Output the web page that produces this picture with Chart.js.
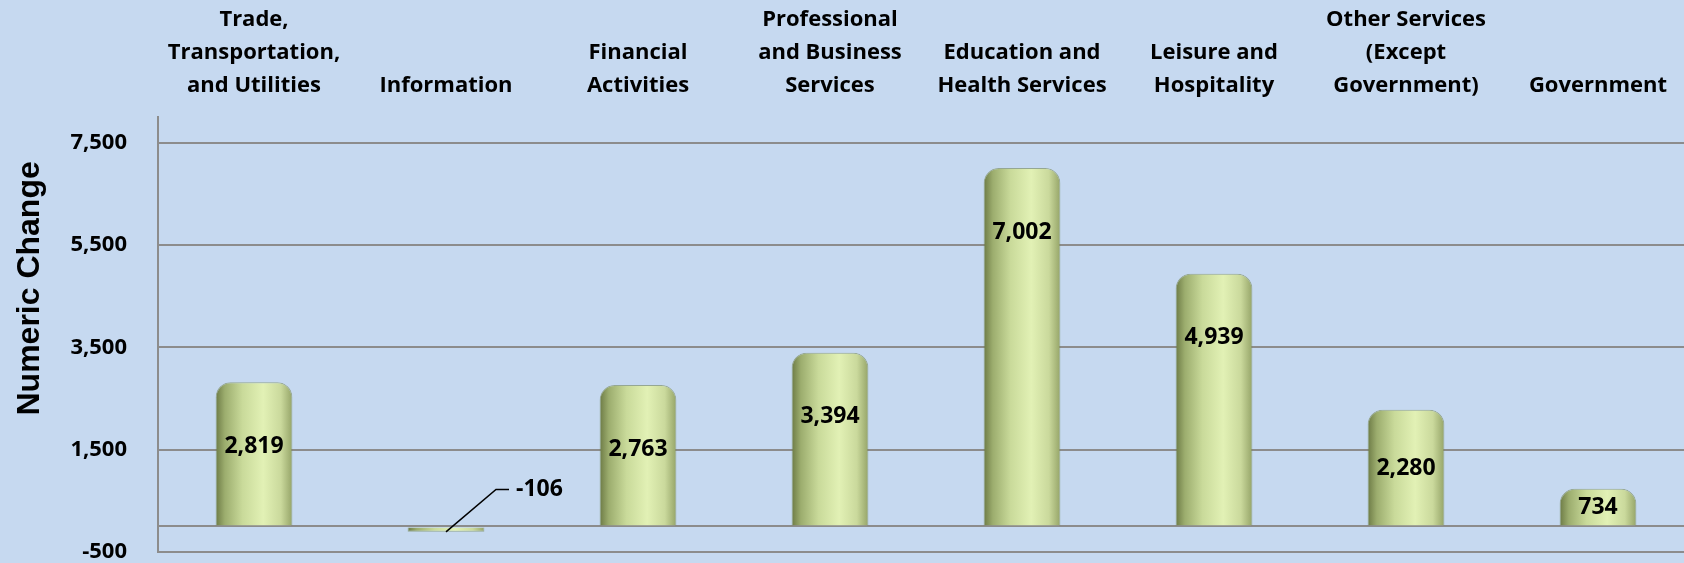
<!DOCTYPE html>
<html>
<head>
<meta charset="utf-8">
<title>Numeric Change by Industry</title>
<script src="https://cdn.jsdelivr.net/npm/chart.js@4/dist/chart.umd.min.js"></script>
<style>
  html, body { margin: 0; padding: 0; overflow: hidden; background: #c6d9f0; }
  #wrap { width: 1700px; height: 563px; }
</style>
</head>
<body>
<div id="wrap"><canvas id="myChart"></canvas></div>
<script>
// data
const categories = [
  ['Trade,', 'Transportation,', 'and Utilities'],
  ['Information'],
  ['Financial', 'Activities'],
  ['Professional', 'and Business', 'Services'],
  ['Education and', 'Health Services'],
  ['Leisure and', 'Hospitality'],
  ['Other Services', '(Except', 'Government)'],
  ['Government']
];
const changes = [2819, -106, 2763, 3394, 7002, 4939, 2280, 734];
const yTicks = [-500, 1500, 3500, 5500, 7500];
const yTitle = 'Numeric Change';

const fmt = v => v.toLocaleString('en-US');
const boldFont = '"Open Sans", "Noto Sans", sans-serif';

// horizontal "cylinder" shading for each bar
function barFill(context) {
  const chart = context.chart;
  const xs = chart.scales.x;
  if (!xs || context.dataIndex === undefined) return '#d3e2a4';
  const cx = xs.getPixelForValue(context.dataIndex);
  const w = (xs.width / categories.length) * 0.4;
  if (!isFinite(cx) || !isFinite(w) || w <= 0) return '#d3e2a4';
  const g = chart.ctx.createLinearGradient(cx - w / 2, 0, cx + w / 2, 0);
  g.addColorStop(0, '#6c7a45');
  g.addColorStop(0.12, '#9cad6e');
  g.addColorStop(0.35, '#c9da9a');
  g.addColorStop(0.62, '#e2f1b5');
  g.addColorStop(0.85, '#cad99c');
  g.addColorStop(1, '#95a468');
  return g;
}

// value labels inside bars, leader line for the negative one
const valueLabels = {
  id: 'valueLabels',
  afterDatasetsDraw(chart) {
    const ctx = chart.ctx;
    const ys = chart.scales.y;
    const meta = chart.getDatasetMeta(0);
    ctx.save();
    ctx.font = 'bold 23px ' + boldFont;
    ctx.fillStyle = '#000';
    ctx.textBaseline = 'middle';
    meta.data.forEach((bar, i) => {
      const v = changes[i];
      if (v >= 0) {
        const y = ys.getPixelForValue(Math.max(v - 1250, v / 2));
        ctx.textAlign = 'center';
        ctx.fillText(fmt(v), bar.x, y);
      } else {
        const y0 = ys.getPixelForValue(0);
        ctx.strokeStyle = '#000';
        ctx.lineWidth = 1.5;
        ctx.beginPath();
        ctx.moveTo(bar.x, bar.y);
        ctx.lineTo(bar.x + 50, y0 - 37);
        ctx.lineTo(bar.x + 63, y0 - 37);
        ctx.stroke();
        ctx.textAlign = 'left';
        ctx.fillText(fmt(v), bar.x + 70, y0 - 37);
      }
    });
    ctx.restore();
  }
};

// rotated y title, placed a bit above the plot middle like the original
const yTitlePlugin = {
  id: 'yTitlePlugin',
  afterDraw(chart) {
    const ctx = chart.ctx;
    const a = chart.chartArea;
    ctx.save();
    ctx.translate(30, a.top + (a.bottom - a.top) * 0.394);
    ctx.rotate(-Math.PI / 2);
    ctx.font = 'bold 32px "Liberation Sans", Arial, sans-serif';
    ctx.fillStyle = '#000';
    ctx.textAlign = 'center';
    ctx.textBaseline = 'middle';
    ctx.fillText(yTitle, 0, 0);
    ctx.restore();
  }
};

new Chart(document.getElementById('myChart'), {
  type: 'bar',
  data: {
    labels: categories,
    datasets: [{
      label: yTitle,
      data: changes,
      backgroundColor: barFill,
      borderColor: 'rgba(110,125,70,0.55)',
      borderWidth: 1,
      borderSkipped: 'start',
      borderRadius: { topLeft: 15, topRight: 15 },
      barPercentage: 0.4,
      categoryPercentage: 1
    }]
  },
  options: {
    responsive: true,
    maintainAspectRatio: false,
    animation: false,
    layout: { padding: { top: 0, right: 6, bottom: 11, left: 0 } },
    plugins: {
      legend: { display: false },
      tooltip: { enabled: false }
    },
    scales: {
      x: {
        position: 'top',
        grid: { display: false, drawTicks: false },
        border: { display: false },
        ticks: {
          color: '#000',
          padding: 15,
          maxRotation: 0,
          autoSkip: false,
          font: { family: boldFont, size: 22, weight: 'bold', lineHeight: 1.5 }
        },
        afterFit(scale) {
          scale.height = 117;
          scale.paddingTop = 0;
          scale.paddingBottom = 0;
        }
      },
      y: {
        min: -500,
        max: 8000,
        grid: { color: '#8c8c8c', lineWidth: 2, drawTicks: false },
        border: { display: true, color: '#8c8c8c', width: 2 },
        afterBuildTicks(scale) {
          scale.ticks = [...yTicks, 0].sort((a, b) => a - b).map(v => ({ value: v }));
        },
        ticks: {
          color: '#000',
          padding: 31,
          font: { family: boldFont, size: 22, weight: 'bold' },
          callback: v => (v === 0 ? '' : fmt(v))
        },
        afterFit(scale) {
          scale.width = 158;
          scale.paddingTop = 0;
          scale.paddingBottom = 0;
        }
      }
    }
  },
  plugins: [valueLabels, yTitlePlugin]
});
</script>
</body>
</html>
